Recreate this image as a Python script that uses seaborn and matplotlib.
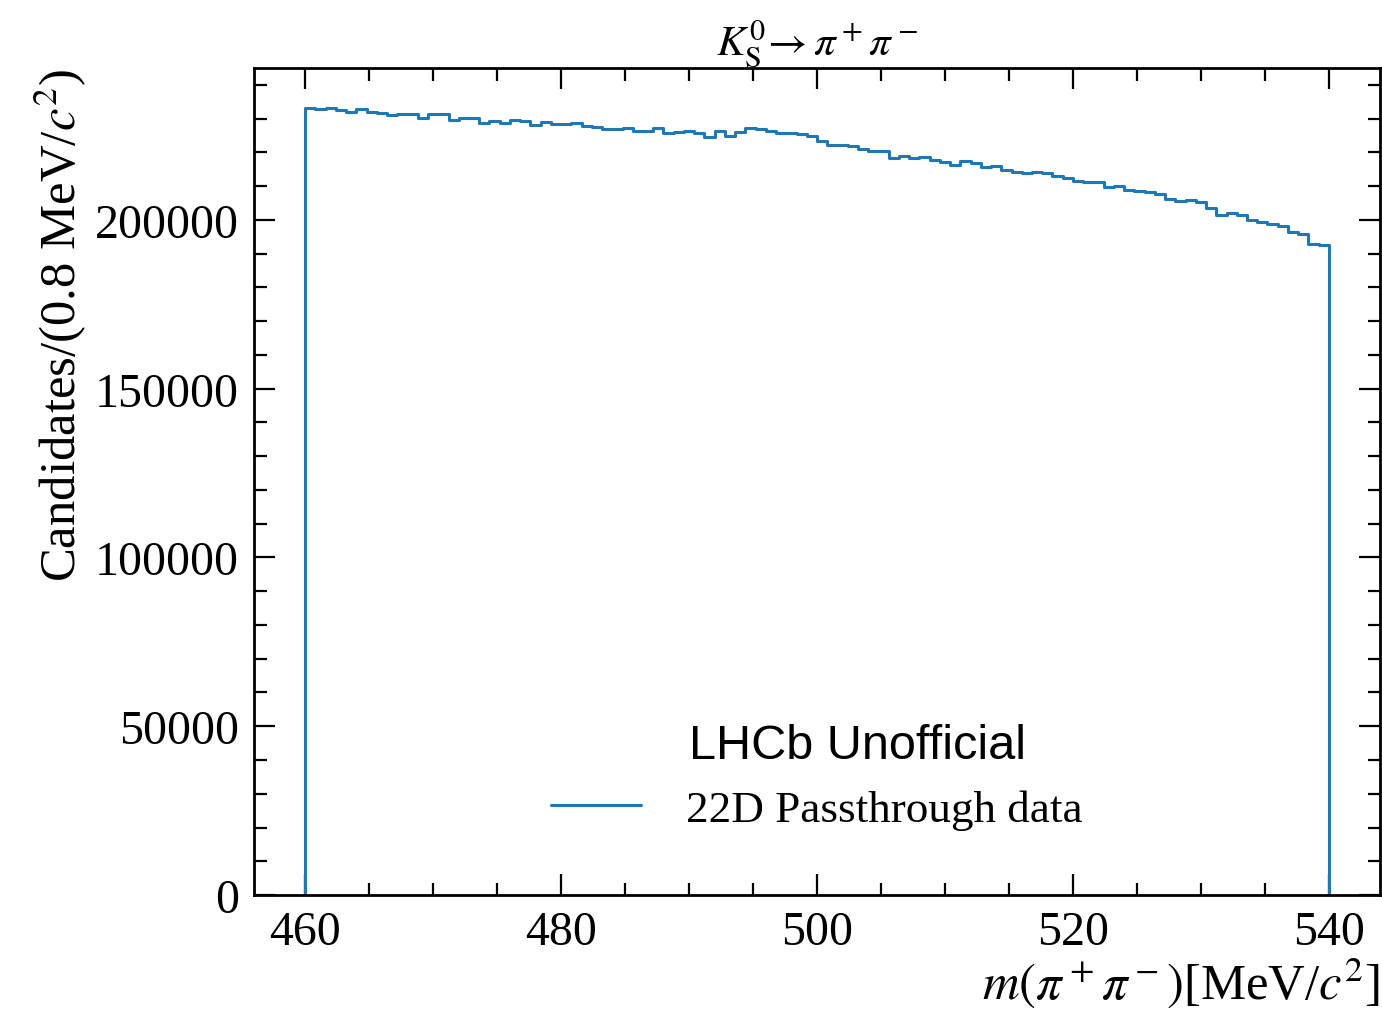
import numpy as np
import pandas as pd
import seaborn as sns
import matplotlib.pyplot as plt
from matplotlib.ticker import MultipleLocator

# m(pi+ pi-) histogram, 100 bins of 0.8 MeV between 460 and 540
mass_lo = 460.0
mass_hi = 540.0
n_bins = 100
counts = [
    233200, 232800, 233100, 232600, 231900, 233000, 232000, 231700, 231000, 231500,
    231500, 230300, 231500, 231300, 229700, 230100, 230300, 228800, 229400, 228600,
    229500, 229300, 228200, 229000, 228400, 228400, 228700, 227900, 227400, 226900,
    226900, 227300, 226400, 226200, 227100, 225800, 226100, 226200, 225800, 224700,
    226200, 224900, 226000, 227100, 226900, 226400, 225800, 225800, 225500, 224800,
    223500, 222200, 222300, 222000, 221100, 220300, 220500, 218200, 219000, 218200,
    218700, 217800, 217200, 216400, 217500, 216800, 215800, 216000, 214800, 214100,
    213800, 214200, 213900, 213000, 212400, 211400, 211300, 211300, 209800, 210100,
    208900, 208700, 208400, 207700, 206300, 205500, 206000, 205200, 203600, 201600,
    202100, 201600, 200000, 199300, 198900, 198100, 196300, 195700, 193000, 192600,
]
label = "22D Passthrough data"

sns.set_style("ticks")
plt.rcParams["font.family"] = ["Liberation Serif", "DejaVu Serif"]
plt.rcParams["mathtext.fontset"] = "stix"
for key in ["text.color", "axes.labelcolor", "xtick.color", "ytick.color", "axes.edgecolor"]:
    plt.rcParams[key] = "black"

edges = np.linspace(mass_lo, mass_hi, n_bins + 1)
df = pd.DataFrame({"mass": 0.5 * (edges[:-1] + edges[1:]), "counts": counts})

fig = plt.figure(figsize=(13.82, 10.12), dpi=100)
ax = fig.add_axes([0.1838, 0.1146, 0.8148, 0.8172])

sns.histplot(data=df, x="mass", weights="counts", bins=n_bins, binrange=(mass_lo, mass_hi),
             element="step", fill=False, color="#1f77b4", linewidth=2.2, label=label, ax=ax)
# close the histogram down to zero at both ends
ax.vlines([edges[0], edges[-1]], 0, [counts[0], counts[-1]], color="#1f77b4", linewidth=2.2)

ax.set_xlim(456, 544)
ax.set_ylim(0, 245000)
ax.xaxis.set_major_locator(MultipleLocator(20))
ax.xaxis.set_minor_locator(MultipleLocator(5))
ax.yaxis.set_major_locator(MultipleLocator(50000))
ax.yaxis.set_minor_locator(MultipleLocator(10000))
ax.tick_params(which="both", direction="in", top=True, right=True, labelsize=34.5, pad=11)
ax.tick_params(which="major", length=15, width=1.6)
ax.tick_params(which="minor", length=9, width=1.6)
for sp in ax.spines.values():
    sp.set_linewidth(2)

ax.set_xlabel(r"$m(\pi^+\pi^-)$[MeV/$c^2$]", fontsize=36.5, loc="right", labelpad=0)
ax.set_ylabel(r"Candidates/(0.8 MeV/$c^2$)", fontsize=36.5, loc="top", labelpad=4)
ax.set_title(r"$K^0_{\mathrm{S}}\!\rightarrow\pi^+\pi^-$", fontsize=31, pad=3)

ax.text(0.5355, 0.181, "LHCb Unofficial", transform=ax.transAxes, ha="center", va="center",
        fontsize=35, family=["Liberation Sans", "DejaVu Sans"])
ax.legend(loc="lower center", bbox_to_anchor=(0.5, 0.03), frameon=False, fontsize=32.5,
          handlelength=2.0, handletextpad=1.0)

fig.savefig("out.png", dpi=100)
